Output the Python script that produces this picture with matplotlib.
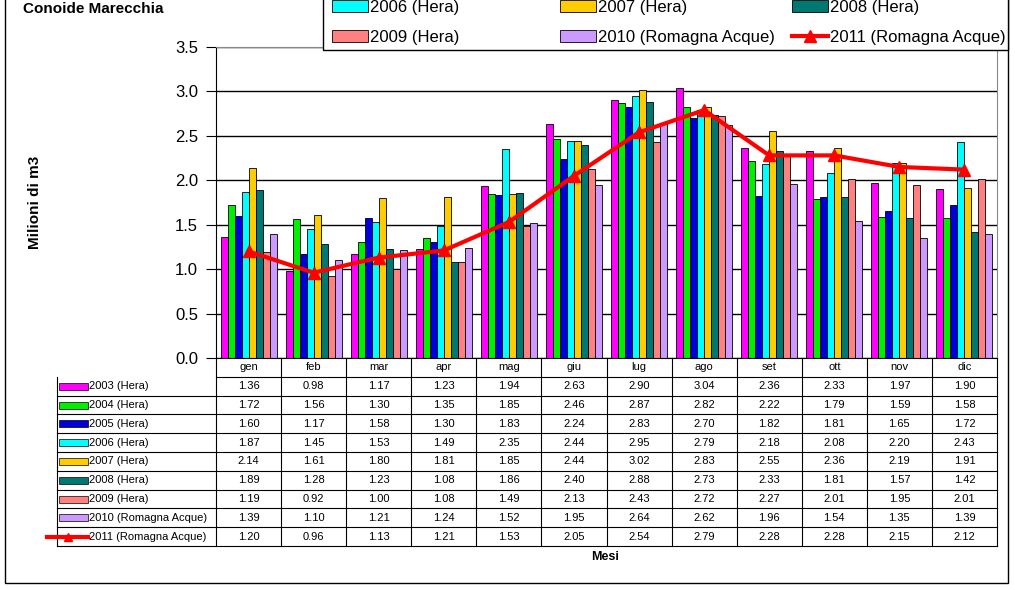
import matplotlib
matplotlib.use('Agg')
import matplotlib.pyplot as plt
from matplotlib.patches import Rectangle
from matplotlib.lines import Line2D
import numpy as np

plt.rcParams['font.family'] = ['Liberation Sans', 'DejaVu Sans']

# dati: milioni di m3 per mese
mesi = ['gen', 'feb', 'mar', 'apr', 'mag', 'giu', 'lug', 'ago', 'set', 'ott', 'nov', 'dic']
serie = ['2003 (Hera)', '2004 (Hera)', '2005 (Hera)', '2006 (Hera)', '2007 (Hera)',
         '2008 (Hera)', '2009 (Hera)', '2010 (Romagna Acque)']
colori = ['#FF00FF', '#00EE00', '#0000DD', '#00FFFF', '#FFCC00', '#007872', '#FF8080', '#CC99FF']

v2003 = [1.36, 0.98, 1.17, 1.23, 1.94, 2.63, 2.90, 3.04, 2.36, 2.33, 1.97, 1.90]
v2004 = [1.72, 1.56, 1.30, 1.35, 1.85, 2.46, 2.87, 2.82, 2.22, 1.79, 1.59, 1.58]
v2005 = [1.60, 1.17, 1.58, 1.30, 1.83, 2.24, 2.83, 2.70, 1.82, 1.81, 1.65, 1.72]
v2006 = [1.87, 1.45, 1.53, 1.49, 2.35, 2.44, 2.95, 2.79, 2.18, 2.08, 2.20, 2.43]
v2007 = [2.14, 1.61, 1.80, 1.81, 1.85, 2.44, 3.02, 2.83, 2.55, 2.36, 2.19, 1.91]
v2008 = [1.89, 1.28, 1.23, 1.08, 1.86, 2.40, 2.88, 2.73, 2.33, 1.81, 1.57, 1.42]
v2009 = [1.19, 0.92, 1.00, 1.08, 1.49, 2.13, 2.43, 2.72, 2.27, 2.01, 1.95, 2.01]
v2010 = [1.39, 1.10, 1.21, 1.24, 1.52, 1.95, 2.64, 2.62, 1.96, 1.54, 1.35, 1.39]
v2011 = [1.20, 0.96, 1.13, 1.21, 1.53, 2.05, 2.54, 2.79, 2.28, 2.28, 2.15, 2.12]
valori = [v2003, v2004, v2005, v2006, v2007, v2008, v2009, v2010]
nome_linea = '2011 (Romagna Acque)'

W, H = 1015, 590
fig = plt.figure(figsize=(W / 100, H / 100), dpi=100)
ax_l, ax_r, ax_t, ax_b = 216, 997, 47, 358
aw, ah = ax_r - ax_l, ax_b - ax_t
ax = fig.add_axes([ax_l / W, 1 - ax_b / H, aw / W, ah / H])

x = np.arange(len(mesi))
n = len(valori)
bw = 0.86 / n
bars = []
for i, (vals, col) in enumerate(zip(valori, colori)):
    b = ax.bar(x - 0.43 + bw * (i + 0.5), vals, bw, color=col, edgecolor='black',
               linewidth=0.6, label=serie[i], zorder=2)
    bars.append(b)
linea, = ax.plot(x, v2011, color='#FF0000', lw=3, marker='^', ms=8, zorder=3, label=nome_linea)

ax.set_xlim(-0.5, len(mesi) - 0.5)
ax.set_ylim(0, 3.5)
ax.set_yticks(np.arange(0, 3.51, 0.5))
ax.set_yticklabels(['%.1f' % t for t in np.arange(0, 3.51, 0.5)], fontsize=12)
ax.set_xticks([])
ax.tick_params(axis='y', length=7, pad=6, direction='out', color='black')
ax.grid(axis='y', color='black', lw=1, zorder=0)
ax.set_axisbelow(True)
ax.spines['top'].set_color('#888888')
ax.spines['right'].set_color('#888888')
ax.spines['left'].set_color('black')
ax.spines['bottom'].set_color('black')
ax.set_ylabel('Milioni di m3', fontsize=11, fontweight='bold')
ax.yaxis.set_label_coords((42 - ax_l) / aw, 0.5)

# tabella dei dati sotto il grafico (disegnata a mano)
tab_l, tab_b = 57, 546
righe = serie + [nome_linea]
celle = [['%.2f' % v for v in r] for r in valori + [v2011]]
nr = len(righe) + 1
rh = (tab_b - ax_b) / nr / ah      # altezza riga in coord. assi
xl = (tab_l - ax_l) / aw           # bordo sinistro colonna etichette
cw = 1 / len(mesi)
fs = 8
kw = dict(transform=ax.transAxes, clip_on=False, color='black', lw=0.8)

for k in range(1, nr + 1):
    ax.add_line(Line2D([xl if k > 1 else 0, 1], [-k * rh, -k * rh], **kw))
for j in range(len(mesi) + 1):
    ax.add_line(Line2D([j * cw, j * cw], [0, -nr * rh], **kw))
ax.add_line(Line2D([xl, xl], [-rh, -nr * rh], **kw))

for j, m in enumerate(mesi):
    ax.text((j + 0.5) * cw, -0.5 * rh, m, transform=ax.transAxes, fontsize=fs,
            ha='center', va='center')
x0 = (59 - ax_l) / aw
x1 = (88 - ax_l) / aw
for i, r in enumerate(righe):
    yc = -(i + 1.5) * rh
    ax.text((89 - ax_l) / aw, yc, r, transform=ax.transAxes, fontsize=fs, ha='left', va='center')
    for j in range(len(mesi)):
        ax.text((j + 0.5) * cw, yc, celle[i][j], transform=ax.transAxes, fontsize=fs,
                ha='center', va='center')
    if i < n:
        ax.add_patch(Rectangle((x0, yc - 3.5 / ah), x1 - x0, 7 / ah, transform=ax.transAxes,
                               facecolor=colori[i], edgecolor='black', lw=0.5, clip_on=False))
    else:
        ax.add_line(Line2D([x0 - 12 / aw, (x0 + x1) / 2 - 6 / aw, x1], [yc, yc, yc],
                           transform=ax.transAxes, color='#FF0000', lw=3, marker='^', ms=6,
                           markevery=[1], clip_on=False))

fig.text(605 / W, 1 - 557 / H, 'Mesi', fontsize=9, fontweight='bold', ha='center', va='center')
fig.text(23 / W, 1 - 9 / H, 'Conoide Marecchia', fontsize=11, fontweight='bold', ha='left', va='center')

# legenda (in alto, tagliata dal bordo): tre colonne a larghezza fissa
gruppi = [([bars[3], bars[6]], [serie[3], serie[6]]),
          ([bars[4], bars[7]], [serie[4], serie[7]]),
          ([bars[5], linea], [serie[5], nome_linea])]
col_x = [326, 554, 786]
for (hh, ll), cx in zip(gruppi, col_x):
    lg = fig.legend(hh, ll, loc='lower left', bbox_to_anchor=(cx / W, 1 - 51 / H),
                    fontsize=12, frameon=False, handlelength=2.15, handleheight=0.7,
                    labelspacing=0.9, borderpad=0.35, handletextpad=0.15, borderaxespad=0)
fig.patches.append(Rectangle((323 / W, 1 - 50 / H), (1008 - 323) / W, 0.2,
                             transform=fig.transFigure, facecolor='white', edgecolor='black',
                             lw=1, zorder=4))

fig.patches.append(Rectangle((5 / W, 1 - 583 / H), (1008 - 5) / W, 583 / H + 0.05,
                             transform=fig.transFigure, fill=False, edgecolor='black', lw=1))

fig.savefig('out.png', dpi=100)
